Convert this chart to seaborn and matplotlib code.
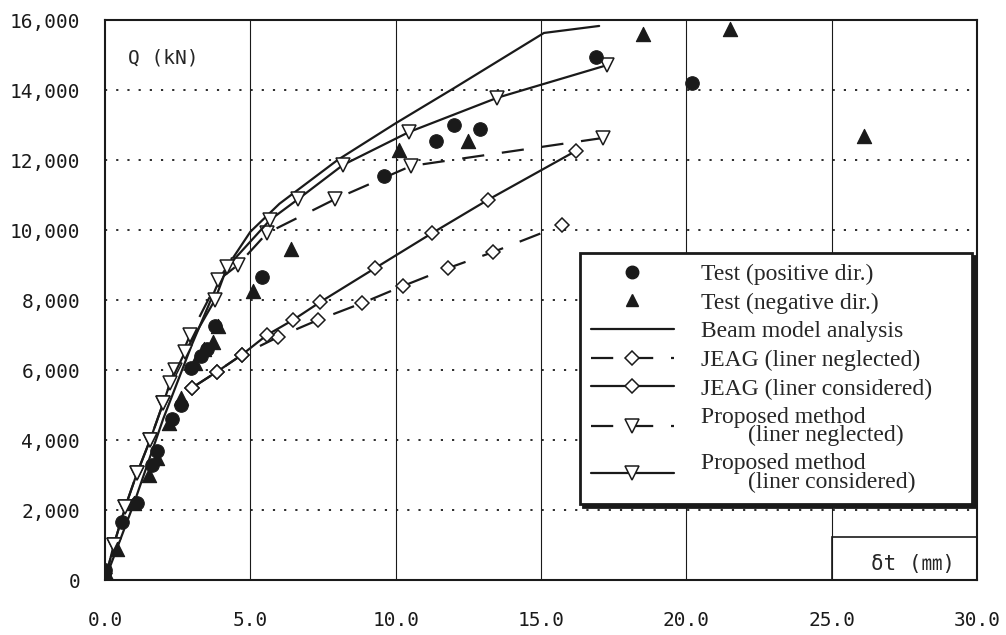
import matplotlib
matplotlib.use("Agg")
import matplotlib.pyplot as plt
from matplotlib.lines import Line2D
from matplotlib.patches import Rectangle
from matplotlib.ticker import FuncFormatter, MultipleLocator
import seaborn as sns

# test results
pos_x = [0.0, 0.6, 1.1, 1.6, 1.8, 2.3, 2.6, 2.95, 3.3, 3.5, 3.8, 5.4, 9.6, 11.4, 12.0, 12.9, 16.9, 20.2]
pos_y = [300, 1650, 2200, 3300, 3700, 4600, 5000, 6050, 6400, 6600, 7250, 8650, 11550, 12550, 13000, 12900, 14950, 14200]
neg_x = [0.1, 0.4, 1.0, 1.5, 1.8, 2.2, 2.6, 3.1, 3.4, 3.7, 3.9, 5.1, 6.4, 10.1, 12.5, 18.5, 21.5, 26.1]
neg_y = [100, 900, 2200, 3000, 3500, 4500, 5200, 6200, 6600, 6800, 7250, 8250, 9450, 12300, 12550, 15600, 15750, 12700]

# beam model analysis
beam_x = [0.0, 1.0, 2.0, 3.0, 4.0, 5.0, 6.0, 8.0, 10.0, 12.0, 15.1, 17.0]
beam_y = [0, 2200, 4600, 6750, 8700, 9950, 10750, 12000, 13050, 14050, 15630, 15830]

# JEAG
jeag_neg_x = [2.99, 3.85, 4.7, 5.95, 7.33, 8.84, 10.25, 11.8, 13.35, 15.72]
jeag_neg_y = [5490, 5950, 6430, 6940, 7430, 7910, 8400, 8910, 9370, 10140]
jeag_con_x = [2.99, 3.85, 4.7, 5.57, 6.47, 7.4, 9.29, 11.25, 13.17, 16.2]
jeag_con_y = [5490, 5950, 6430, 7000, 7430, 7940, 8910, 9910, 10860, 12260]

# proposed method
prop_neg_x = [0.0, 0.3, 0.7, 1.1, 1.55, 2.0, 2.4, 2.93, 3.9, 4.57, 5.57, 7.91, 10.53, 17.13]
prop_neg_y = [0, 1000, 2100, 3050, 4000, 5050, 6000, 7000, 8570, 9000, 9910, 10880, 11830, 12630]
prop_con_x = [0.0, 0.3, 0.7, 1.1, 1.55, 2.0, 2.24, 2.75, 3.78, 4.2, 5.68, 6.64, 8.19, 10.46, 13.5, 17.27]
prop_con_y = [0, 1000, 2100, 3050, 4000, 5050, 5630, 6510, 8000, 8940, 10290, 10880, 11860, 12800, 13780, 14710]

legend_labels = ["Test (positive dir.)", "Test (negative dir.)", "Beam model analysis",
                 "JEAG (liner neglected)", "JEAG (liner considered)     ",
                 "Proposed method\n        (liner neglected)",
                 "Proposed method\n        (liner considered)"]

sns.set_theme(style="white")
mono = "DejaVu Sans Mono"
serif = "Liberation Serif"
dash = (0, (10, 8))

fig, ax = plt.subplots(figsize=(10.06, 6.35), dpi=100)
fig.subplots_adjust(left=0.1044, right=0.9712, bottom=0.0866, top=0.9685)

lw = 1.6
tri = dict(marker="v", markersize=10, markerfacecolor="white", markeredgecolor="k", markeredgewidth=1.1)
dia = dict(marker="D", markersize=7.5, markerfacecolor="white", markeredgecolor="k", markeredgewidth=1.1)

sns.lineplot(x=beam_x, y=beam_y, ax=ax, color="k", lw=lw, sort=False, estimator=None, zorder=3)
sns.lineplot(x=jeag_neg_x, y=jeag_neg_y, ax=ax, color="k", lw=lw, linestyle=dash, sort=False, estimator=None, zorder=3, **dia)
sns.lineplot(x=jeag_con_x, y=jeag_con_y, ax=ax, color="k", lw=lw, sort=False, estimator=None, zorder=3, **dia)
sns.lineplot(x=prop_neg_x, y=prop_neg_y, ax=ax, color="k", lw=lw, linestyle=dash, sort=False, estimator=None, zorder=3, **tri)
sns.lineplot(x=prop_con_x, y=prop_con_y, ax=ax, color="k", lw=lw, sort=False, estimator=None, zorder=3, **tri)
sns.scatterplot(x=pos_x, y=pos_y, ax=ax, color="k", marker="o", s=95, edgecolor="k", zorder=4)
sns.scatterplot(x=neg_x, y=neg_y, ax=ax, color="k", marker="^", s=105, edgecolor="k", zorder=4)

ax.set_xlim(0, 30)
ax.set_ylim(0, 16000)
ax.xaxis.set_major_locator(MultipleLocator(5))
ax.yaxis.set_major_locator(MultipleLocator(2000))
ax.xaxis.set_major_formatter(FuncFormatter(lambda v, p: f"{v:.1f}"))
ax.yaxis.set_major_formatter(FuncFormatter(lambda v, p: f"{v:,.0f}"))
ax.grid(False)
for xv in range(5, 30, 5):
    ax.axvline(xv, color="k", lw=0.8, zorder=1)
for yv in range(2000, 16000, 2000):
    ax.axhline(yv, color="k", lw=1.3, linestyle=(0, (1.2, 5)), zorder=1)

for s in ax.spines.values():
    s.set_color("k")
    s.set_linewidth(1.5)
ax.tick_params(axis="y", direction="in", length=8, width=1.2, color="k", pad=18, labelsize=14)
ax.tick_params(axis="x", length=0, pad=22, labelsize=14)
for t in ax.get_xticklabels() + ax.get_yticklabels():
    t.set_fontfamily(mono)
    t.set_color("k")

ax.text(0.026, 0.932, "Q (kN)", transform=ax.transAxes, fontsize=14, family=mono, va="center", ha="left")
ax.add_patch(Rectangle((25, 0), 5, 1230, fill=False, edgecolor="k", lw=1.2, zorder=2))
ax.text(27.8, 450, "δt (㎜)", fontsize=15, family=[mono, "Noto Sans CJK JP"], ha="center", va="center")

handles = [
    Line2D([], [], color="k", marker="o", linestyle="none", markersize=9),
    Line2D([], [], color="k", marker="^", linestyle="none", markersize=9),
    Line2D([], [], color="k", lw=lw),
    Line2D([], [], color="k", lw=lw, linestyle=(0, (10, 8)), **dia),
    Line2D([], [], color="k", lw=lw, **dia),
    Line2D([], [], color="k", lw=lw, linestyle=(0, (10, 8)), **tri),
    Line2D([], [], color="k", lw=lw, **tri),
]
leg = ax.legend(handles, legend_labels, loc="upper left", bbox_to_anchor=(0.545, 0.584),
                borderaxespad=0, prop={"family": serif, "size": 17}, numpoints=1,
                handlelength=3.5, handletextpad=1.15, labelspacing=0.3, borderpad=0.45,
                frameon=True, fancybox=False, shadow={"color": "k", "alpha": 1})
leg.get_frame().set_edgecolor("k")
leg.get_frame().set_linewidth(2.0)
leg.set_zorder(5)
for t in leg.get_texts():
    t.set_linespacing(0.85)

fig.savefig("out.png", dpi=100, facecolor="white")
